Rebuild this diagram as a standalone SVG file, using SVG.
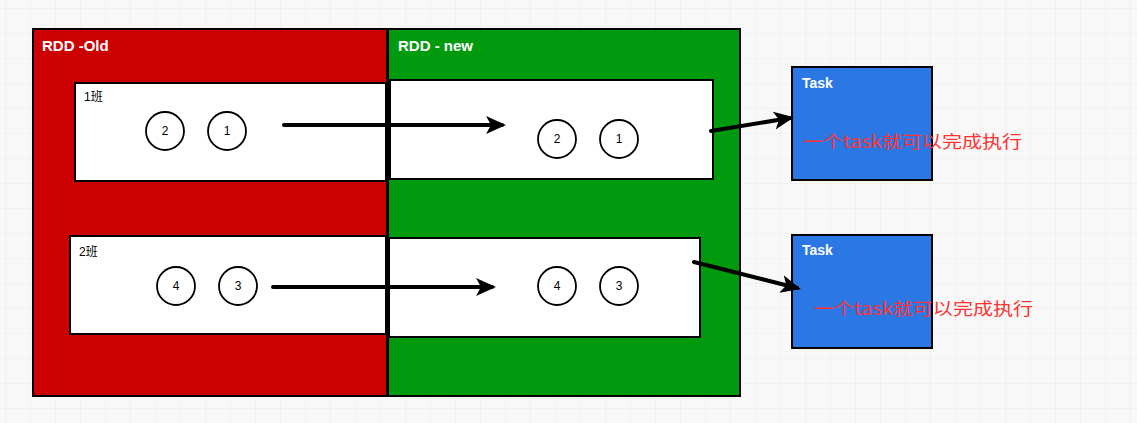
<svg xmlns="http://www.w3.org/2000/svg" width="1137" height="423" viewBox="0 0 1137 423">
<defs>
<pattern id="grid" x="5" y="8" width="25" height="25" patternUnits="userSpaceOnUse">
<path d="M0 0H25M0 0V25" fill="none" stroke="#ebebeb" stroke-width="1.2"/>
</pattern>
<marker id="ah" viewBox="0 0 10 10" refX="8" refY="5" markerWidth="5" markerHeight="5" orient="auto" markerUnits="strokeWidth">
<path d="M0 0.5L10 5L0 9.5L2.5 5Z" fill="#000"/>
</marker>
<style>
.box{stroke:#000;stroke-width:2}
.lbl{font-family:"Liberation Sans",Arial,sans-serif;font-size:15px;fill:#fff;font-weight:bold}
.tsk{font-family:"Liberation Sans",Arial,sans-serif;font-size:14px;fill:#fff;font-weight:bold}
.cls{font-family:"Liberation Sans","Noto Sans CJK SC",sans-serif;font-size:12px;fill:#000}
.num{font-family:"Liberation Sans",Arial,sans-serif;font-size:12px;fill:#000;text-anchor:middle}
.c{fill:#fff;stroke:#000;stroke-width:1.8}
.note{font-family:"Noto Sans CJK SC",sans-serif;font-size:17px;fill:#ff3333}
.conn{stroke:#000;stroke-width:4;fill:none;stroke-linecap:round;marker-end:url(#ah)}
</style>
</defs>
<rect width="1137" height="423" fill="#f8f8f8"/>
<rect width="1137" height="423" fill="url(#grid)"/>
<g id="rdd-old">
<rect class="box" x="33" y="29" width="354" height="367" fill="#cc0000"/>
<text class="lbl" x="42" y="51">RDD -Old</text>
</g>
<g id="rdd-new">
<rect class="box" x="388" y="29" width="352" height="367" fill="#009a0e"/>
<text class="lbl" x="398" y="51">RDD - new</text>
</g>
<g id="old-class1">
<rect class="box" x="75" y="83" width="311" height="98" fill="#fff"/>
<text class="cls" x="84" y="101">1班</text>
<circle class="c" cx="165" cy="131" r="19"/><text class="num" x="165" y="135">2</text>
<circle class="c" cx="227" cy="131" r="19"/><text class="num" x="227" y="135">1</text>
</g>
<g id="old-class2">
<rect class="box" x="70" y="236" width="316" height="98" fill="#fff"/>
<text class="cls" x="79" y="256">2班</text>
<circle class="c" cx="176" cy="286" r="19"/><text class="num" x="176" y="290">4</text>
<circle class="c" cx="238" cy="286" r="19"/><text class="num" x="238" y="290">3</text>
</g>
<g id="new-part1">
<rect class="box" x="390" y="80" width="323" height="99" fill="#fff"/>
<circle class="c" cx="557" cy="139" r="19"/><text class="num" x="557" y="143">2</text>
<circle class="c" cx="619" cy="139" r="19"/><text class="num" x="619" y="143">1</text>
</g>
<g id="new-part2">
<rect class="box" x="389" y="238" width="311" height="99" fill="#fff"/>
<circle class="c" cx="557" cy="286" r="19"/><text class="num" x="557" y="290">4</text>
<circle class="c" cx="619" cy="286" r="19"/><text class="num" x="619" y="290">3</text>
</g>
<g id="task1">
<rect class="box" x="792" y="67" width="140" height="113" fill="#2b78e4"/>
<text class="tsk" x="802" y="88">Task</text>
</g>
<g id="task2">
<rect class="box" x="792" y="235" width="140" height="113" fill="#2b78e4"/>
<text class="tsk" x="802" y="255">Task</text>
</g>
<g id="connectors">
<line class="conn" x1="284" y1="125" x2="502" y2="125"/>
<line class="conn" x1="273" y1="287" x2="492" y2="287"/>
<line class="conn" x1="711" y1="131" x2="790" y2="118"/>
<line class="conn" x1="694" y1="262" x2="797" y2="288"/>
</g>
<g id="notes">
<text class="note" x="803" y="148" textLength="219" lengthAdjust="spacingAndGlyphs">一个task就可以完成执行</text>
<text class="note" x="814" y="315" textLength="219" lengthAdjust="spacingAndGlyphs">一个task就可以完成执行</text>
</g>
</svg>
